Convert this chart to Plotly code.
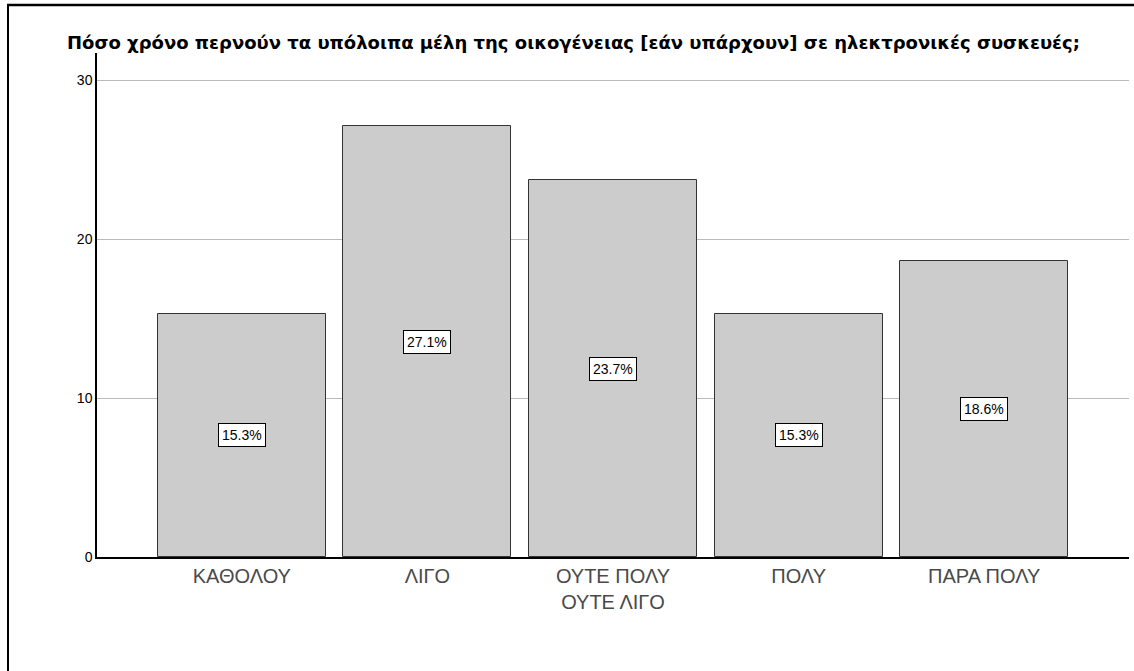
import plotly.graph_objects as go

categories = ["ΚΑΘΟΛΟΥ", "ΛΙΓΟ", "ΟΥΤΕ ΠΟΛΥ<br>ΟΥΤΕ ΛΙΓΟ", "ΠΟΛΥ", "ΠΑΡΑ ΠΟΛΥ"]
values = [15.3, 27.1, 23.7, 15.3, 18.6]
tick_vals = [0, 10, 20, 30]
title_text = "Πόσο χρόνο περνούν τα υπόλοιπα μέλη της οικογένειας [εάν υπάρχουν] σε ηλεκτρονικές συσκευές;"

W, H = 1134, 671
L, R, T, B = 97, 5, 53, 114
PW, PH = W - L - R, H - T - B

fig = go.Figure()
fig.add_trace(go.Bar(
    x=list(range(len(categories))), y=values, width=0.905,
    marker=dict(color="#cccccc", line=dict(color="#333333", width=1)),
    hoverinfo="skip", showlegend=False,
))

for i, v in enumerate(values):
    fig.add_annotation(
        x=i, y=v / 2, text=f"{v:.1f}%", showarrow=False,
        font=dict(family="Liberation Sans, Arial", size=14, color="#000"),
        bgcolor="white", bordercolor="black", borderwidth=1, borderpad=3,
    )

fig.update_layout(
    width=W, height=H,
    margin=dict(l=L, r=R, t=T, b=B),
    paper_bgcolor="white", plot_bgcolor="white",
    font=dict(family="Liberation Sans, Arial", color="#000"),
    title=dict(text=f"<b>{title_text}</b>", x=67 / W, xanchor="left",
               y=1 - 43 / H, yanchor="middle",
               font=dict(family="DejaVu Sans", size=18, color="#000")),
    bargap=0,
    xaxis=dict(
        range=[-0.78, 4.78], tickmode="array",
        tickvals=list(range(len(categories))), ticktext=categories,
        showgrid=False, zeroline=False, showline=True,
        linecolor="#000", linewidth=1.5, ticks="",
        tickfont=dict(size=20, color="#4a4a4a"),
    ),
    yaxis=dict(
        range=[0, 31.7], tickvals=tick_vals, showgrid=True,
        gridcolor="#bbbbbb", gridwidth=1, zeroline=False,
        showline=True, linecolor="#000", linewidth=1.5, ticks="",
        tickfont=dict(size=14, color="#000"),
    ),
    shapes=[
        dict(type="line", xref="paper", yref="paper",
             x0=(8 - L) / PW, x1=(8 - L) / PW,
             y0=(H - B - 4) / PH, y1=-B / PH - 0.01,
             line=dict(color="#000", width=2)),
        dict(type="line", xref="paper", yref="paper",
             x0=(7 - L) / PW, x1=(W - L) / PW,
             y0=(H - B - 5) / PH, y1=(H - B - 5) / PH,
             line=dict(color="#000", width=2.5)),
    ],
)

fig.write_html("out.html", config={"displayModeBar": False},
               post_script="document.body.style.margin='0';")
